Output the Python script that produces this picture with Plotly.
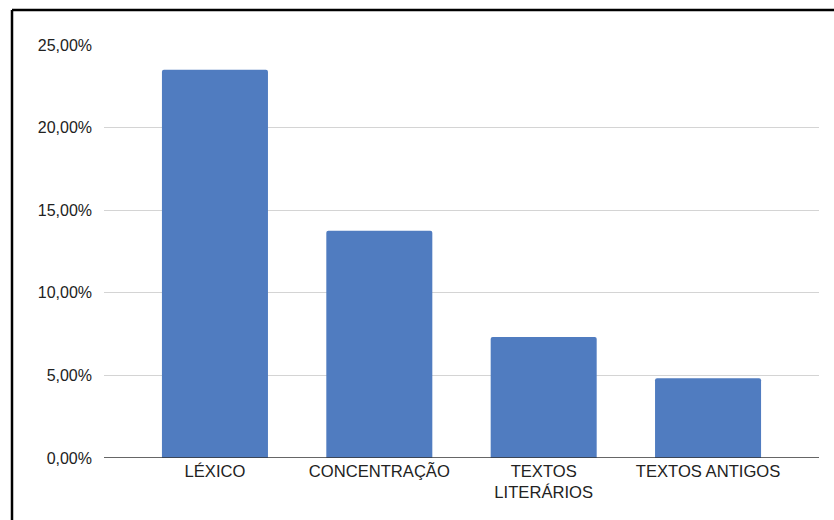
import plotly.graph_objects as go

categories = ["LÉXICO", "CONCENTRAÇÃO", "TEXTOS<br>LITERÁRIOS", "TEXTOS ANTIGOS"]
values = [23.5, 13.75, 7.32, 4.82]
y_tickvals = [0, 5, 10, 15, 20, 25]
y_ticktext = ["0,00%", "5,00%", "10,00%", "15,00%", "20,00%", "25,00%"]

W, H = 834, 520
L, R, T, B = 104, 15, 45, 62
pw, ph = W - L - R, H - T - B

def px_to_paper_x(px):
    return (px - L) / pw

def px_to_paper_y(py):
    return (H - B - py) / ph

fig = go.Figure()
fig.add_trace(go.Bar(
    x=list(range(len(categories))),
    y=values,
    marker=dict(color="#507cc0", line=dict(width=0)),
    width=0.645,
    hoverinfo="skip",
))

fig.update_layout(
    width=W, height=H,
    margin=dict(l=L, r=R, t=T, b=B, pad=0),
    paper_bgcolor="white",
    plot_bgcolor="white",
    font=dict(family="Liberation Sans, Arial, sans-serif", size=16, color="#222222"),
    showlegend=False,
    barcornerradius=2,
    xaxis=dict(
        range=[-0.675, 3.675],
        tickmode="array",
        tickvals=list(range(len(categories))),
        ticktext=categories,
        tickfont=dict(size=16.6),
        showgrid=False,
        zeroline=False,
        showline=False,
        ticks="",
        ticklabelstandoff=1,
        fixedrange=True,
    ),
    yaxis=dict(
        range=[0, 25],
        tickmode="array",
        tickvals=y_tickvals,
        ticktext=y_ticktext,
        showgrid=True,
        gridcolor="#d4d4d4",
        gridwidth=1,
        zeroline=False,
        showline=False,
        ticks="",
        ticklabelstandoff=11,
        fixedrange=True,
    ),
    shapes=[
        # baseline (0%)
        dict(type="line", xref="paper", yref="y", x0=0, x1=1, y0=0, y1=0,
             line=dict(color="#333333", width=1.5), layer="above"),
        # outer black frame (top and left edges visible)
        dict(type="line", xref="paper", yref="paper",
             x0=px_to_paper_x(12), x1=px_to_paper_x(860),
             y0=px_to_paper_y(10), y1=px_to_paper_y(10),
             line=dict(color="black", width=2.5)),
        dict(type="line", xref="paper", yref="paper",
             x0=px_to_paper_x(12), x1=px_to_paper_x(12),
             y0=px_to_paper_y(10), y1=px_to_paper_y(540),
             line=dict(color="black", width=2.5)),
    ],
)

fig.write_html("out.html", config={"displayModeBar": False})
